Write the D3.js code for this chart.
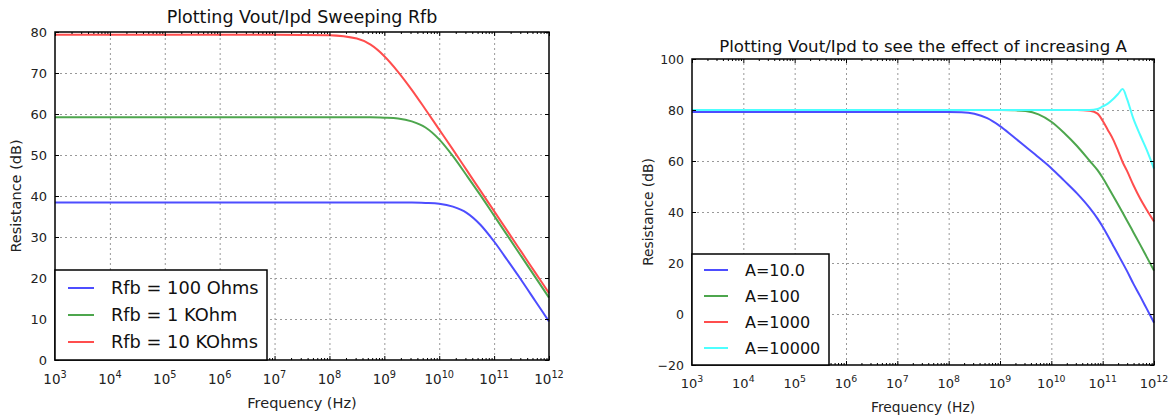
<!DOCTYPE html>
<html>
<head>
<meta charset="utf-8">
<script src="https://cdn.jsdelivr.net/npm/d3@7"></script>
<style>
body { margin: 0; background: #fff; }
svg { font-family: "DejaVu Sans", sans-serif; }
.grid line { stroke: #999; stroke-dasharray: 2,3; stroke-width: 1; }
.grid path { display: none; }
.tick-lbl { fill: #222; }
.ax path { display: none; }
.ax line { stroke: #000; stroke-width: 1; }
</style>
</head>
<body>
<div class="graph"></div>
<script>
// frequency exponents (Hz = 10^e) and curves
var expRfb = [3,4,5,6,7,8,8.5,8.75,9,9.25,9.5,9.75,10,10.25,10.5,10.75,11,11.25,11.5,11.75,12];
var rfb100 = [38.4,38.4,38.4,38.4,38.4,38.4,38.4,38.4,38.4,38.4,38.4,38.3,38.1,37.4,35.9,33.0,28.9,24.2,19.4,14.4,9.4];
var rfb1k  = [59.2,59.2,59.2,59.2,59.2,59.2,59.2,59.2,59.1,58.9,58.2,56.7,53.8,49.7,45.0,40.2,35.2,30.2,25.2,20.2,15.2];
var rfb10k = [79.3,79.3,79.3,79.3,79.3,79.2,78.4,76.9,74.1,70.3,65.9,61.1,56.2,51.3,46.3,41.3,36.3,31.3,26.3,21.3,16.3];
var rfbNames = ["Rfb = 100 Ohms", "Rfb = 1 KOhm", "Rfb = 10 KOhms"];

var expA = [3,4,5,6,7,8,8.25,8.5,8.75,9,9.25,9.5,9.75,10,10.25,10.5,10.75,10.9,11,11.1,11.2,11.3,11.39,11.47,11.6,11.73,11.86,12];
var a10    = [79.2,79.2,79.2,79.2,79.2,79.2,79.1,78.5,76.8,73.7,69.7,65.6,61.5,57.2,52.3,47.3,41.5,37.4,34.2,30.7,27.0,23.3,20.0,17.0,11.8,7.0,2.0,-3.4];
var a100   = [80,80,80,80,80,80,80,80,80,80,79.9,79.6,78.3,75.4,71.0,65.9,60.0,56.4,53.4,50.0,46.5,42.9,39.7,36.8,32.0,27.2,22.3,17.0];
var a1000  = [80,80,80,80,80,80,80,80,80,80,80,80,80,80,80,80,79.7,78.6,75.8,72.2,68.6,64.0,59.5,56.3,50.5,45.3,40.8,36.3];
var a10000 = [80,80,80,80,80,80,80,80,80,80,80,80,80,80,80,80,80,80.4,81.4,82.5,84.2,86.3,88.2,84.6,76.5,70.2,64.3,57.0];
var aNames = ["A=10.0", "A=100", "A=1000", "A=10000"];

var xMajorExp = [3,4,5,6,7,8,9,10,11,12];
var yTicksRfb = [0,10,20,30,40,50,60,70,80];
var yTicksA = [-20,0,20,40,60,80,100];

var colors = ["#4d4dff", "#4da64d", "#ff4d4d", "#4dffff"];

var width = 1170, height = 417;
var svg = d3.select(".graph").append("svg")
	.attr("width", width)
	.attr("height", height);

function toSeries(exps, vals){
	return exps.map(function(e, i){ return {f: Math.pow(10, e), v: vals[i]}; });
}

function drawPanel(p){
	var x = d3.scaleLog().domain([1e3, 1e12]).range([p.left, p.right]);
	var y = d3.scaleLinear().domain(p.yDomain).range([p.bottom, p.top]);
	var w = p.right - p.left, h = p.bottom - p.top;

	var majors = xMajorExp.map(function(e){ return Math.pow(10, e); });
	var minors = [];
	for(var e = 3; e < 12; e++){
		for(var k = 2; k < 10; k++) minors.push(k * Math.pow(10, e));
	}

	var g = svg.append("g");

	// grid
	g.append("g").attr("class", "grid")
		.attr("transform", "translate(0," + p.bottom + ")")
		.call(d3.axisBottom(x).tickValues(majors.slice(1, -1)).tickSize(-h).tickFormat(""));
	g.append("g").attr("class", "grid")
		.attr("transform", "translate(" + p.left + ",0)")
		.call(d3.axisLeft(y).tickValues(p.yTicks.slice(1, -1)).tickSize(-w).tickFormat(""));

	// lines
	var line = d3.line()
		.x(function(d){ return x(d.f); })
		.y(function(d){ return y(d.v); })
		.curve(d3.curveMonotoneX);

	p.series.forEach(function(s, i){
		g.append("path")
			.datum(s)
			.attr("fill", "none")
			.attr("stroke", colors[i])
			.attr("stroke-width", 2)
			.attr("d", line);
	});

	// ticks, inward on all four sides
	g.append("g").attr("class", "ax").attr("transform", "translate(0," + p.bottom + ")")
		.call(d3.axisBottom(x).tickValues(majors).tickSize(-4).tickFormat(""));
	g.append("g").attr("class", "ax").attr("transform", "translate(0," + p.bottom + ")")
		.call(d3.axisBottom(x).tickValues(minors).tickSize(-2).tickFormat(""));
	g.append("g").attr("class", "ax").attr("transform", "translate(0," + p.top + ")")
		.call(d3.axisTop(x).tickValues(majors).tickSize(-4).tickFormat(""));
	g.append("g").attr("class", "ax").attr("transform", "translate(0," + p.top + ")")
		.call(d3.axisTop(x).tickValues(minors).tickSize(-2).tickFormat(""));
	g.append("g").attr("class", "ax").attr("transform", "translate(" + p.left + ",0)")
		.call(d3.axisLeft(y).tickValues(p.yTicks).tickSize(-4).tickFormat(""));
	g.append("g").attr("class", "ax").attr("transform", "translate(" + p.right + ",0)")
		.call(d3.axisRight(y).tickValues(p.yTicks).tickSize(-4).tickFormat(""));

	// tick labels
	g.selectAll(".ylbl").data(p.yTicks).enter().append("text")
		.attr("class", "tick-lbl")
		.attr("x", p.left - 8)
		.attr("y", function(d){ return y(d) + p.tickFont * 0.36; })
		.attr("text-anchor", "end")
		.attr("font-size", p.tickFont)
		.text(function(d){ return d < 0 ? "\u2212" + Math.abs(d) : d; });

	var xl = g.selectAll(".xlbl").data(xMajorExp).enter().append("text")
		.attr("class", "tick-lbl")
		.attr("x", function(d){ return x(Math.pow(10, d)); })
		.attr("y", p.bottom + p.xLabelDy)
		.attr("text-anchor", "middle")
		.attr("font-size", p.xTickFont);
	xl.append("tspan").text("10");
	xl.append("tspan").attr("dy", -p.xTickFont * 0.45).attr("font-size", p.xTickFont * 0.72)
		.text(function(d){ return d; });

	// spines
	g.append("rect")
		.attr("x", p.left).attr("y", p.top)
		.attr("width", w).attr("height", h)
		.attr("fill", "none").attr("stroke", "#000").attr("stroke-width", 1.5);

	// titles
	g.append("text")
		.attr("x", (p.left + p.right) / 2).attr("y", p.titleY)
		.attr("text-anchor", "middle").attr("font-size", p.titleFont).attr("fill", "#111")
		.text(p.title);
	g.append("text")
		.attr("x", (p.left + p.right) / 2).attr("y", p.xTitleY)
		.attr("text-anchor", "middle").attr("font-size", p.labelFont).attr("fill", "#222")
		.text("Frequency (Hz)");
	g.append("text")
		.attr("transform", "translate(" + p.yTitleX + "," + (p.top + p.bottom) / 2 + ") rotate(-90)")
		.attr("text-anchor", "middle").attr("font-size", p.labelFont).attr("fill", "#222")
		.text("Resistance (dB)");

	// legend, lower left
	var lg = p.legend;
	var lgTop = p.bottom - lg.h;
	g.append("rect")
		.attr("x", p.left).attr("y", lgTop)
		.attr("width", lg.w).attr("height", lg.h)
		.attr("fill", "#fff").attr("stroke", "#000").attr("stroke-width", 1.5);
	p.names.forEach(function(n, i){
		var ry = lgTop + lg.first + i * lg.step;
		g.append("line")
			.attr("x1", p.left + lg.lineX0).attr("x2", p.left + lg.lineX1)
			.attr("y1", ry).attr("y2", ry)
			.attr("stroke", colors[i]).attr("stroke-width", 2);
		g.append("text")
			.attr("x", p.left + lg.textX).attr("y", ry + lg.font * 0.36)
			.attr("font-size", lg.font).attr("fill", "#111")
			.text(n);
	});
}

drawPanel({
	left: 55, right: 549, top: 32, bottom: 360,
	yDomain: [0, 80], yTicks: yTicksRfb,
	series: [toSeries(expRfb, rfb100), toSeries(expRfb, rfb1k), toSeries(expRfb, rfb10k)],
	names: rfbNames,
	title: "Plotting Vout/Ipd Sweeping Rfb", titleY: 23, titleFont: 17.5,
	tickFont: 13, xTickFont: 13.5, xLabelDy: 24, labelFont: 14.5, xTitleY: 408, yTitleX: 21,
	legend: {w: 212, h: 90, first: 18, step: 27, lineX0: 13, lineX1: 39, textX: 56, font: 17.8}
});

drawPanel({
	left: 692, right: 1154, top: 59, bottom: 365,
	yDomain: [-20, 100], yTicks: yTicksA,
	series: [toSeries(expA, a10), toSeries(expA, a100), toSeries(expA, a1000), toSeries(expA, a10000)],
	names: aNames,
	title: "Plotting Vout/Ipd to see the effect of increasing A", titleY: 52, titleFont: 16.6,
	tickFont: 12.5, xTickFont: 13, xLabelDy: 23, labelFont: 13.8, xTitleY: 412, yTitleX: 653,
	legend: {w: 137, h: 111, first: 16, step: 26, lineX0: 12, lineX1: 36, textX: 53, font: 16}
});
</script>
</body>
</html>
